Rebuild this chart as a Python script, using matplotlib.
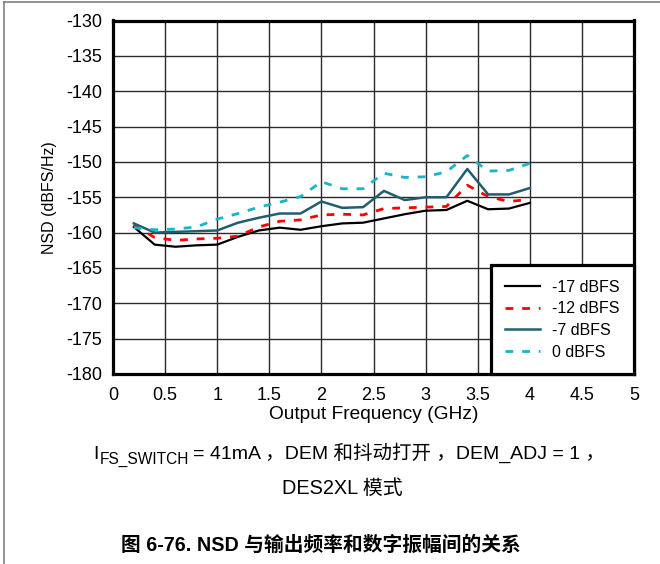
import matplotlib
matplotlib.use("Agg")
import matplotlib.pyplot as plt
from matplotlib.lines import Line2D

plt.rcParams['font.family'] = ['Liberation Sans', 'Noto Sans CJK SC', 'DejaVu Sans']
plt.rcParams['axes.unicode_minus'] = False

# 数据
freq_ghz = [0.2, 0.4, 0.6, 0.8, 1.0, 1.2, 1.4, 1.6, 1.8, 2.0,
            2.2, 2.4, 2.6, 2.8, 3.0, 3.2, 3.4, 3.6, 3.8, 4.0]
nsd_m17 = [-159.2, -161.7, -162.0, -161.8, -161.7, -160.6, -159.7, -159.3, -159.6, -159.1,
           -158.7, -158.6, -158.0, -157.4, -156.9, -156.8, -155.5, -156.7, -156.6, -155.8]
nsd_m12 = [-158.9, -160.7, -161.1, -160.9, -160.8, -160.5, -159.2, -158.4, -158.2, -157.5,
           -157.4, -157.5, -156.6, -156.5, -156.4, -156.3, -153.3, -154.9, -155.6, -155.3]
nsd_m7 = [-158.7, -160.0, -159.9, -159.8, -159.7, -158.6, -157.9, -157.3, -157.3, -155.6,
          -156.5, -156.4, -154.1, -155.4, -155.0, -155.0, -151.0, -154.6, -154.6, -153.7]
nsd_0 = [-159.3, -159.6, -159.5, -159.2, -158.1, -157.3, -156.4, -155.7, -154.9, -152.8,
         -153.8, -153.8, -151.6, -152.2, -152.1, -151.4, -149.1, -151.3, -151.2, -150.2]
series_labels = ['-17 dBFS', '-12 dBFS', '-7 dBFS', '0 dBFS']
x_ticks = [0, 0.5, 1, 1.5, 2, 2.5, 3, 3.5, 4, 4.5, 5]
x_tick_labels = ['0', '0.5', '1', '1.5', '2', '2.5', '3', '3.5', '4', '4.5', '5']
y_ticks = list(range(-180, -129, 5))

W, H = 660, 564
fig = plt.figure(figsize=(6.6, 5.64), dpi=100)
ax = fig.add_axes([113 / W, 1 - 374 / H, 521 / W, 353.5 / H])

ax.plot(freq_ghz, nsd_m17, color='black', lw=1.6, label=series_labels[0])
ax.plot(freq_ghz, nsd_m12, color='#ff0000', lw=2.0, dashes=(2.8, 3.2), label=series_labels[1])
ax.plot(freq_ghz, nsd_m7, color='#215e6e', lw=1.8, label=series_labels[2])
ax.plot(freq_ghz, nsd_0, color='#1ab4c8', lw=2.0, dashes=(2.8, 3.2), label=series_labels[3])

ax.set_xlim(0, 5)
ax.set_ylim(-180, -130)
ax.set_xticks(x_ticks)
ax.set_xticklabels(x_tick_labels)
ax.set_yticks(y_ticks)
ax.tick_params(axis='x', length=0, labelsize=13, pad=9)
ax.tick_params(axis='y', length=0, labelsize=13, pad=8)
ax.grid(True, color='#2a2a2a', lw=1.0)
ax.set_axisbelow(True)
for sp in ax.spines.values():
    sp.set_linewidth(2.3)
    sp.set_color('black')

ax.set_xlabel('Output Frequency (GHz)', fontsize=13.8, labelpad=2)
ax.set_ylabel('NSD (dBFS/Hz)', fontsize=11.5, labelpad=6)

leg = ax.legend(loc='lower right', borderaxespad=0, fontsize=11.5, fancybox=False,
                framealpha=1, edgecolor='black', handlelength=2.2, handletextpad=0.75,
                labelspacing=0.42, borderpad=0.9)
leg.get_frame().set_linewidth(2.3)

# 图注第一行：I 加下标，再接正文
base_y = 1 - 459 / H
fig.canvas.draw()
r = fig.canvas.get_renderer()
t1 = fig.text(93 / W, base_y, 'I', fontsize=14, va='baseline', ha='left')
x1 = t1.get_window_extent(r).x1 / W
t2 = fig.text(x1 + 1 / W, base_y - 5 / H, 'FS_SWITCH', fontsize=11.2, va='baseline', ha='left')
x2 = t2.get_window_extent(r).x1 / W
fig.text(x2 + 4 / W, base_y, '= 41mA ，DEM 和抖动打开 ，DEM_ADJ = 1 ，', fontsize=14,
         va='baseline', ha='left')

fig.text(342 / W, 1 - 488 / H, 'DES2XL 模式', fontsize=14.3, ha='center', va='center')
fig.text(321 / W, 1 - 545 / H, '图 6-76. NSD 与输出频率和数字振幅间的关系',
         fontsize=14.2, fontweight='bold', ha='center', va='center')

# 外框
fig.add_artist(Line2D([4 / W, 4 / W], [0, 1 - 1.5 / H], transform=fig.transFigure,
                      color='#808080', lw=1.2))
fig.add_artist(Line2D([4 / W, 1], [1 - 1.5 / H, 1 - 1.5 / H], transform=fig.transFigure,
                      color='#808080', lw=1.2))

fig.savefig('out.png', dpi=100)
